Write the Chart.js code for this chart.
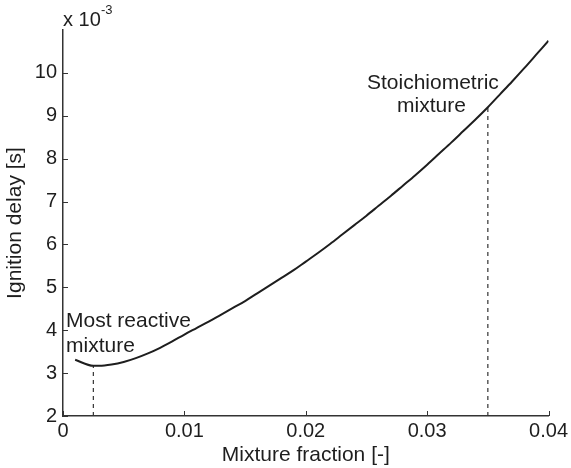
<!DOCTYPE html>
<html>
<head>
<meta charset="utf-8">
<script src="https://cdn.jsdelivr.net/npm/chart.js@4"></script>
<style>
  html, body { margin: 0; padding: 0; background: #fff; }
  #wrap { width: 571px; height: 468px; }
</style>
</head>
<body>
<div id="wrap"><canvas id="myChart"></canvas></div>
<script>
// mixture fraction [-]
const mixFrac = [0.001, 0.0025, 0.003, 0.004, 0.005, 0.006, 0.007, 0.008, 0.009, 0.010,
  0.011, 0.012, 0.013, 0.014, 0.015, 0.016, 0.017, 0.018, 0.019, 0.020,
  0.021, 0.022, 0.023, 0.024, 0.025, 0.026, 0.027, 0.028, 0.029, 0.030,
  0.031, 0.032, 0.033, 0.034, 0.035, 0.036, 0.037, 0.038, 0.039, 0.040];
// ignition delay [x 1e-3 s]
const delay = [3.31, 3.17, 3.17, 3.20, 3.26, 3.35, 3.46, 3.59, 3.74, 3.90,
  4.05, 4.20, 4.36, 4.52, 4.68, 4.86, 5.04, 5.22, 5.40, 5.60,
  5.80, 6.01, 6.23, 6.45, 6.67, 6.90, 7.13, 7.37, 7.61, 7.86,
  8.12, 8.38, 8.65, 8.92, 9.20, 9.50, 9.80, 10.11, 10.43, 10.75];

const xTicks = [0, 0.01, 0.02, 0.03, 0.04];
const xTickLabels = ["0", "0.01", "0.02", "0.03", "0.04"];
const yTicks = [2, 3, 4, 5, 6, 7, 8, 9, 10];

const mostReactive = 0.0025;
const stoich = 0.035;

const font = "'Liberation Sans', Arial, Helvetica, sans-serif";
const ink = "#1e1e1e";

function delayAt(z) {
  const i = mixFrac.indexOf(z);
  return delay[i];
}

const curve = mixFrac.map((z, i) => ({ x: z, y: delay[i] }));

// inward tick marks + text labels on the plot
const extras = {
  id: "extras",
  afterDraw(chart) {
    const c = chart.ctx;
    const xs = chart.scales.x;
    const ys = chart.scales.y;
    c.save();
    c.strokeStyle = "#333";
    c.lineWidth = 1;
    xTicks.forEach((v) => {
      const px = Math.round(xs.getPixelForValue(v)) + 0.5;
      c.beginPath();
      c.moveTo(px, ys.bottom);
      c.lineTo(px, ys.bottom - 5);
      c.stroke();
    });
    yTicks.forEach((v) => {
      const py = Math.round(ys.getPixelForValue(v)) + 0.5;
      c.beginPath();
      c.moveTo(xs.left, py);
      c.lineTo(xs.left + 5, py);
      c.stroke();
    });

    c.fillStyle = ink;
    c.textBaseline = "middle";
    c.font = "20px " + font;
    c.textAlign = "left";
    c.fillText("x 10", xs.left, 20);
    c.font = "13px " + font;
    c.fillText("-3", xs.left + 38, 10);

    c.font = "21px " + font;
    c.fillText("Most reactive", xs.left + 3, ys.getPixelForValue(4.2));
    c.fillText("mixture", xs.left + 3, ys.getPixelForValue(3.63));
    c.textAlign = "right";
    c.fillText("Stoichiometric", xs.getPixelForValue(stoich) + 11, ys.getPixelForValue(9.75));
    c.fillText("mixture", xs.getPixelForValue(stoich) - 22, ys.getPixelForValue(9.22));
    c.restore();
  },
};

const ctx = document.getElementById("myChart");

new Chart(ctx, {
  type: "line",
  data: {
    datasets: [
      {
        label: "Ignition delay",
        data: curve,
        borderColor: ink,
        borderWidth: 2,
        pointRadius: 0,
        cubicInterpolationMode: "monotone",
      },
      {
        label: "Most reactive",
        data: [{ x: mostReactive, y: 2 }, { x: mostReactive, y: delayAt(mostReactive) }],
        borderColor: "#333",
        borderWidth: 1.2,
        borderDash: [4, 4],
        pointRadius: 0,
      },
      {
        label: "Stoichiometric",
        data: [{ x: stoich, y: 2 }, { x: stoich, y: delayAt(stoich) }],
        borderColor: "#333",
        borderWidth: 1.2,
        borderDash: [4, 4],
        pointRadius: 0,
      },
    ],
  },
  options: {
    responsive: true,
    maintainAspectRatio: false,
    animation: false,
    layout: { padding: { left: 0, right: 20, top: 30, bottom: 0 } },
    plugins: { legend: { display: false }, tooltip: { enabled: false } },
    scales: {
      x: {
        type: "linear",
        min: 0,
        max: 0.04,
        afterBuildTicks: (s) => { s.ticks = xTicks.map((v) => ({ value: v })); },
        afterFit: (s) => { s.height = 52; },
        grid: { drawOnChartArea: false, drawTicks: false },
        border: { display: true, color: "#333", width: 1.5 },
        ticks: {
          padding: 3,
          color: ink,
          font: { size: 20, family: font },
          maxRotation: 0,
          callback: (v) => xTickLabels[xTicks.indexOf(v)],
        },
        title: {
          display: true,
          text: "Mixture fraction [-]",
          color: ink,
          font: { size: 21, family: font },
          padding: { top: 0, bottom: 0 },
        },
      },
      y: {
        type: "linear",
        min: 2,
        max: 11,
        afterBuildTicks: (s) => { s.ticks = yTicks.map((v) => ({ value: v })); },
        afterFit: (s) => { s.width = 63; },
        grid: { drawOnChartArea: false, drawTicks: false },
        border: { display: true, color: "#333", width: 1.5 },
        ticks: {
          padding: 6,
          color: ink,
          font: { size: 20, family: font },
        },
        title: {
          display: true,
          text: "Ignition delay [s]",
          color: ink,
          font: { size: 21, family: font },
          padding: { top: 3, bottom: 0 },
        },
      },
    },
  },
  plugins: [extras],
});
</script>
</body>
</html>
